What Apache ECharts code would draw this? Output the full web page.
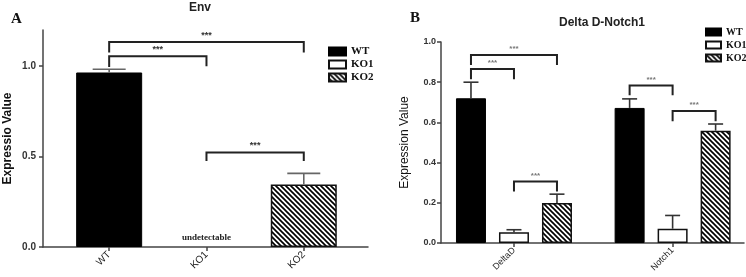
<!DOCTYPE html>
<html>
<head>
<meta charset="utf-8">
<script src="https://cdn.jsdelivr.net/npm/echarts@6/dist/echarts.min.js"></script>
<style>
html, body { margin: 0; padding: 0; background: #fff; }
#main { width: 746px; height: 277px; }
</style>
</head>
<body>
<div id="main"></div>
<script>
// panel A - Env
var envCats = ['WT', 'KO1', 'KO2'];
var envValues = [0.965, 0, 0.346];
var envErrors = [0.018, 0, 0.061];
var envYTicks = [0, 0.5, 1.0];
// [from, to, top, left end, right end]
var envBrackets = [
    [0, 2, 1.134, 1.075, 1.075],
    [0, 1, 1.055, 0.996, 1.0],
    [1, 2, 0.523, 0.475, 0.475]
];
var envNotes = [[1, 'undetectable']];

// panel B - Delta D-Notch1
var genes = ['DeltaD', 'Notch1'];
var groups = ['WT', 'KO1', 'KO2'];
var wtValues = [0.72, 0.672];
var ko1Values = [0.053, 0.071];
var ko2Values = [0.199, 0.559];
var wtErrors = [0.08, 0.045];
var ko1Errors = [0.013, 0.066];
var ko2Errors = [0.044, 0.033];
// [gene, from group, to group, top, left end, right end]
var geneBrackets = [
    [0, 0, 2, 0.935, 0.886, 0.886],
    [0, 0, 1, 0.866, 0.815, 0.815],
    [0, 1, 2, 0.306, 0.256, 0.256],
    [1, 0, 1, 0.783, 0.735, 0.735],
    [1, 1, 2, 0.657, 0.606, 0.606]
];

var SANS = 'Liberation Sans, Arial, sans-serif';
var SERIF = 'Liberation Serif, Times New Roman, serif';
var BAR_A = 66;
var BAR_B = 30, GAP_B = 13;

function groupOffset(g) {
    return (g - 1) * (BAR_B + GAP_B);
}

// hatch "\\\\"
function makeHatch() {
    var s = 5;
    var c = document.createElement('canvas');
    c.width = s; c.height = s;
    var ctx = c.getContext('2d');
    ctx.fillStyle = '#fff';
    ctx.fillRect(0, 0, s, s);
    ctx.strokeStyle = '#000';
    ctx.lineWidth = 1.7;
    for (var k = -1; k <= 1; k++) {
        ctx.beginPath();
        ctx.moveTo(-1, k * s - 1);
        ctx.lineTo(s + 1, s + k * s + 1);
        ctx.stroke();
    }
    return { image: c, repeat: 'repeat' };
}
var hatch = makeHatch();

var barStyles = [
    { color: '#000', borderColor: '#000', borderWidth: 1 },
    { color: '#fff', borderColor: '#111', borderWidth: 1.5 },
    { color: hatch, borderColor: '#111', borderWidth: 1.5 }
];

function errLine(x1, y1, x2, y2, color) {
    return { type: 'line', shape: { x1: x1, y1: y1, x2: x2, y2: y2 }, style: { stroke: color, lineWidth: 1.6 } };
}

function bracketShape(xl, xr, yTop, yl, yr, starColor, starSize) {
    return {
        type: 'group',
        children: [
            { type: 'polyline', shape: { points: [[xl, yl], [xl, yTop], [xr, yTop], [xr, yr]] },
              style: { stroke: '#222', lineWidth: 2, fill: null } },
            { type: 'text', x: (xl + xr) / 2, y: yTop - 2,
              style: { text: '***', fill: starColor, font: 'bold ' + starSize + 'px ' + SANS,
                       align: 'center', verticalAlign: 'bottom' } }
        ]
    };
}

var chart = echarts.init(document.getElementById('main'));

// undetectable (0) values are not drawn as bars
var seriesA = groups.map(function (g, i) {
    return {
        name: g, type: 'bar', xAxisIndex: 0, yAxisIndex: 0,
        barWidth: BAR_A, barGap: '-100%',
        itemStyle: barStyles[i],
        data: [[i, envValues[i] ? envValues[i] : '-']]
    };
});
var bValues = [wtValues, ko1Values, ko2Values];
var bErrors = [wtErrors, ko1Errors, ko2Errors];
var seriesB = groups.map(function (g, i) {
    return {
        name: g, type: 'bar', xAxisIndex: 1, yAxisIndex: 1,
        barWidth: BAR_B, barGap: (GAP_B / BAR_B * 100) + '%',
        itemStyle: barStyles[i],
        data: genes.map(function (n, j) { return [j, bValues[i][j]]; })
    };
});

var errDataB = [];
groups.forEach(function (g, i) {
    genes.forEach(function (n, j) { errDataB.push([j, i, bValues[i][j], bErrors[i][j]]); });
});

var axisLineStyle = { color: '#444', width: 1.5 };

var option = {
    animation: false,
    title: [
        { text: 'Env', left: 200, top: 2, textAlign: 'center', padding: 0,
          textStyle: { fontFamily: SANS, fontSize: 12, fontWeight: 'bold', color: '#222' } },
        { text: 'Delta D-Notch1', left: 602, top: 17, textAlign: 'center', padding: 0,
          textStyle: { fontFamily: SANS, fontSize: 12, fontWeight: 'bold', color: '#222' } },
        { text: 'A', left: 11, top: 12, padding: 0,
          textStyle: { fontFamily: SERIF, fontSize: 15, fontWeight: 'bold', color: '#111' } },
        { text: 'B', left: 410, top: 11, padding: 0,
          textStyle: { fontFamily: SERIF, fontSize: 15, fontWeight: 'bold', color: '#111' } }
    ],
    legend: [
        { data: groups, orient: 'vertical', left: 328, top: 46, icon: 'rect', padding: 0,
          itemWidth: 17, itemHeight: 8, itemGap: 2,
          textStyle: { fontFamily: SERIF, fontSize: 11, fontWeight: 'bold', color: '#111' } },
        { data: groups, orient: 'vertical', left: 705, top: 27, icon: 'rect', padding: 0,
          itemWidth: 15, itemHeight: 7, itemGap: 3,
          textStyle: { fontFamily: SERIF, fontSize: 10, fontWeight: 'bold', color: '#111' } }
    ],
    grid: [
        { left: 43, top: 30, width: 325, height: 217 },
        { left: 441, top: 42, width: 303, height: 201 }
    ],
    xAxis: [
        { type: 'value', gridIndex: 0, min: -0.68, max: 2.66,
          splitLine: { show: false },
          axisLine: { show: true, lineStyle: axisLineStyle },
          axisTick: { show: true, length: 4, customValues: [0, 1, 2], lineStyle: axisLineStyle },
          axisLabel: { customValues: [0, 1, 2], rotate: 45, margin: 6,
                       fontFamily: SANS, fontSize: 10, color: '#222',
                       formatter: function (v) { return envCats[Math.round(v)]; } } },
        { type: 'value', gridIndex: 1, min: -0.46, max: 1.45,
          splitLine: { show: false },
          axisLine: { show: true, lineStyle: axisLineStyle },
          axisTick: { show: true, length: 4, customValues: [0, 1], lineStyle: axisLineStyle },
          axisLabel: { customValues: [0, 1], rotate: 45, margin: 6,
                       fontFamily: SANS, fontSize: 9, color: '#222',
                       formatter: function (v) { return genes[Math.round(v)]; } } }
    ],
    yAxis: [
        { type: 'value', gridIndex: 0, min: 0, max: 1.2,
          name: 'Expressio Value', nameLocation: 'middle', nameGap: 29,
          nameTextStyle: { fontFamily: SANS, fontSize: 12, fontWeight: 'bold', color: '#111' },
          splitLine: { show: false },
          axisLine: { show: true, onZero: false, lineStyle: axisLineStyle },
          axisTick: { show: true, length: 4, customValues: envYTicks, lineStyle: axisLineStyle },
          axisLabel: { customValues: envYTicks, margin: 7, fontFamily: SANS, fontSize: 10,
                       fontWeight: 'bold', color: '#333',
                       formatter: function (v) { return v.toFixed(1); } } },
        { type: 'value', gridIndex: 1, min: 0, max: 1, interval: 0.2,
          name: 'Expression Value', nameLocation: 'middle', nameGap: 30,
          nameTextStyle: { fontFamily: SANS, fontSize: 12, color: '#111' },
          splitLine: { show: false },
          axisLine: { show: true, onZero: false, lineStyle: axisLineStyle },
          axisTick: { show: true, length: 4, lineStyle: axisLineStyle },
          axisLabel: { margin: 5, fontFamily: SANS, fontSize: 9, fontWeight: 'bold', color: '#333',
                       formatter: function (v) { return v.toFixed(1); } } }
    ],
    series: seriesA.concat(seriesB).concat([
        { type: 'custom', xAxisIndex: 0, yAxisIndex: 0, z: 5,
          data: envCats.map(function (c, i) { return [i, envValues[i], envErrors[i]]; }),
          renderItem: function (params, api) {
              var e = api.value(2);
              if (!e) return;
              var p0 = api.coord([api.value(0), api.value(1)]);
              var p1 = api.coord([api.value(0), api.value(1) + e]);
              var hw = BAR_A / 4;
              return { type: 'group', children: [
                  errLine(p0[0], p0[1], p1[0], p1[1], '#666'),
                  errLine(p1[0] - hw, p1[1], p1[0] + hw, p1[1], '#666')
              ] };
          } },
        { type: 'custom', xAxisIndex: 0, yAxisIndex: 0, z: 5,
          data: envBrackets,
          renderItem: function (params, api) {
              var a = api.coord([api.value(0), api.value(2)]);
              var b = api.coord([api.value(1), api.value(2)]);
              var yl = api.coord([0, api.value(3)])[1];
              var yr = api.coord([0, api.value(4)])[1];
              return bracketShape(a[0], b[0], a[1], yl, yr, '#333', 9);
          } },
        { type: 'custom', xAxisIndex: 0, yAxisIndex: 0, z: 5,
          data: envNotes.map(function (n) { return [n[0], 0]; }),
          renderItem: function (params, api) {
              var p = api.coord([api.value(0), 0]);
              return { type: 'text', x: p[0], y: p[1] - 5,
                       style: { text: envNotes[params.dataIndex][1], fill: '#222',
                                font: 'bold 9px ' + SERIF, align: 'center', verticalAlign: 'bottom' } };
          } },
        { type: 'custom', xAxisIndex: 1, yAxisIndex: 1, z: 5,
          data: errDataB,
          renderItem: function (params, api) {
              var off = groupOffset(api.value(1));
              var p0 = api.coord([api.value(0), api.value(2)]);
              var p1 = api.coord([api.value(0), api.value(2) + api.value(3)]);
              var x = p0[0] + off, hw = BAR_B / 4;
              return { type: 'group', children: [
                  errLine(x, p0[1], x, p1[1], '#333'),
                  errLine(x - hw, p1[1], x + hw, p1[1], '#333')
              ] };
          } },
        { type: 'custom', xAxisIndex: 1, yAxisIndex: 1, z: 5,
          data: geneBrackets,
          renderItem: function (params, api) {
              var c = api.coord([api.value(0), api.value(3)]);
              var xl = c[0] + groupOffset(api.value(1));
              var xr = c[0] + groupOffset(api.value(2));
              var yl = api.coord([0, api.value(4)])[1];
              var yr = api.coord([0, api.value(5)])[1];
              return bracketShape(xl, xr, c[1], yl, yr, '#777', 8);
          } }
    ])
};

chart.setOption(option);
</script>
</body>
</html>
